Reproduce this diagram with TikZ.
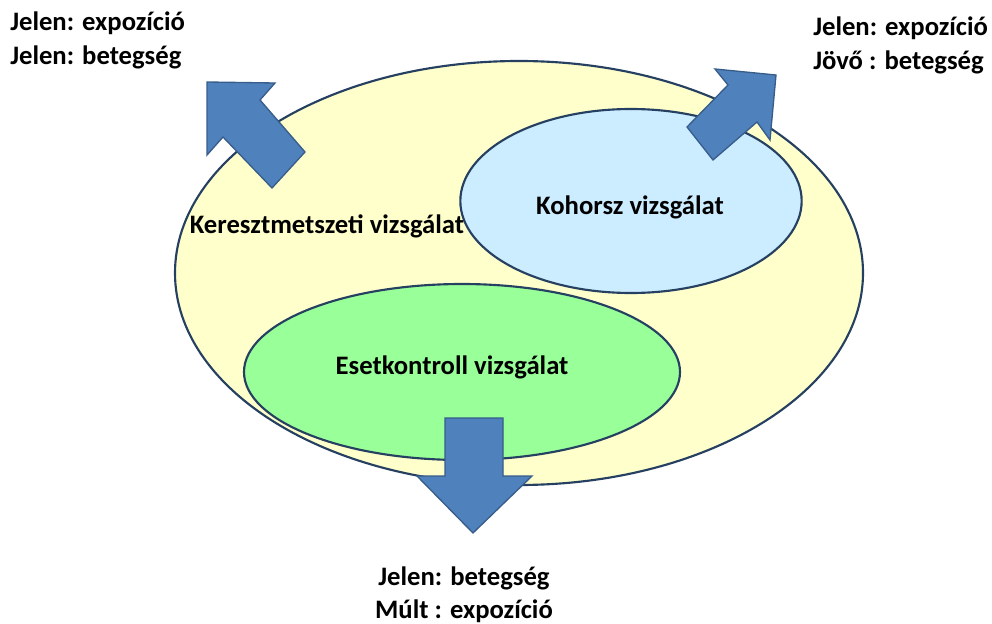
\documentclass[tikz,border=0pt]{standalone}
\usepackage{fontspec}
\setmainfont{Carlito}
\usetikzlibrary{shapes.geometric}
\definecolor{edge}{RGB}{37,64,97}
\definecolor{bigfill}{RGB}{255,255,204}
\definecolor{kohfill}{RGB}{204,236,255}
\definecolor{esetfill}{RGB}{153,255,153}
\definecolor{arrfill}{RGB}{79,129,189}
\definecolor{arredge}{RGB}{56,93,138}
\tikzset{
  oval/.style={ellipse, draw=edge, line width=1.6pt, inner sep=0pt},
  blockarrow/.style={fill=arrfill, draw=arredge, line width=1pt, line join=miter},
  lbl/.style={font=\bfseries\fontsize{20}{22}\selectfont, text=black, inner sep=0pt},
  corner/.style={font=\bfseries\fontsize{20}{24}\selectfont, text=black, inner sep=0pt},
}
\begin{document}
\begin{tikzpicture}[x=0.75pt,y=-0.75pt]
\useasboundingbox (0,0) rectangle (992,624);
% big ellipse
\node[oval, fill=bigfill, minimum width=516pt, minimum height=318pt] (big) at (519,273) {};
% upper-left arrow
\draw[blockarrow] (207,82) -- (275,83) -- (260,100) -- (305,152) -- (272,188) -- (223,137) -- (207,155) -- cycle;
% kohorsz ellipse
\node[oval, fill=kohfill, minimum width=256pt, minimum height=138pt] (koh) at (631,201) {};
% upper-right arrow
\draw[blockarrow] (776,75) -- (770,140) -- (757,122) -- (713,160) -- (687,127) -- (728,85) -- (715,69) -- cycle;
% esetkontroll ellipse
\node[oval, fill=esetfill, minimum width=327pt, minimum height=132pt] (eset) at (462,372) {};
% down arrow
\draw[blockarrow] (445,418) -- (503,418) -- (503,476) -- (532,476) -- (473,533) -- (417,476) -- (445,476) -- cycle;
% labels
\node[lbl] (kereszt) at (327,226) {Keresztmetszeti vizsgálat};
\node[lbl] (kohl) at (630,207) {Kohorsz vizsgálat};
\node[lbl] (esetl) at (452,367) {Esetkontroll vizsgálat};
\node[corner, anchor=base west] (tl1) at (10,31) {Jelen: expozíció};
\node[corner, anchor=base west] (tl2) at (10,65) {Jelen: betegség};
\node[corner, anchor=base west] (tr1) at (813,36) {Jelen: expozíció};
\node[corner, anchor=base west] (tr2) at (813,70) {Jövő : betegség};
\node[corner, anchor=base] (bt1) at (464,585) {Jelen: betegség};
\node[corner, anchor=base] (bt2) at (464,618) {Múlt : expozíció};
\end{tikzpicture}
\end{document}
